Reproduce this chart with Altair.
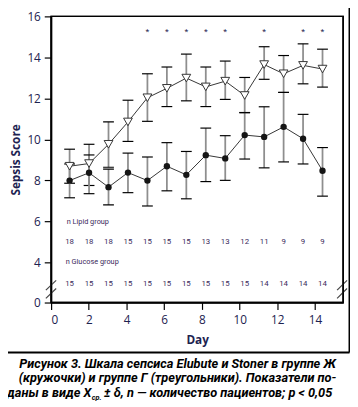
import altair as alt
import pandas as pd

days = list(range(1, 15))
glu_mean = [8.69, 8.82, 9.76, 10.85, 12.03, 12.49, 12.99, 12.56, 12.84, 12.14, 13.65, 13.20, 13.61, 13.43]
glu_lo = [7.86, 7.75, 8.64, 9.90, 10.88, 11.60, 11.88, 11.60, 11.95, 11.31, 12.93, 12.29, 12.71, 12.55]
glu_hi = [9.52, 9.76, 10.85, 11.91, 13.20, 13.53, 14.16, 13.53, 13.82, 13.02, 14.52, 14.09, 14.66, 14.40]
lip_mean = [7.99, 8.37, 7.67, 8.38, 7.99, 8.69, 8.27, 9.23, 9.07, 10.21, 10.12, 10.61, 10.03, 8.47]
lip_lo = [7.15, 7.35, 6.80, 7.40, 6.75, 7.49, 7.10, 7.94, 8.00, 9.04, 8.61, 8.90, 8.80, 7.23]
lip_hi = [8.80, 9.24, 8.55, 9.33, 9.14, 9.84, 9.41, 10.55, 10.18, 11.30, 11.59, 12.29, 11.22, 9.60]
star_days = [5, 6, 7, 8, 9, 11, 13, 14]
star_y = 15.23
n_lipid = [18, 18, 18, 15, 15, 15, 15, 13, 13, 12, 11, 9, 9, 9]
n_glucose = [15, 15, 15, 15, 15, 15, 15, 15, 15, 15, 14, 14, 14, 14]
row_labels = ["n Lipid group", "n Glucose group"]
row_label_y = [5.95, 4.0]
row_label_x = [0.85, 0.8]
lipid_row_y = 4.98
glucose_row_y = 1.8
x_ticks = [0, 2, 4, 6, 8, 10, 12, 14]
y_ticks = [0, 4, 6, 8, 10, 12, 14, 16]
caption = [
    "Рисунок 3. Шкала сепсиса Elubute и Stoner в группе Ж",
    "(кружочки) и группе Г (треугольники). Показатели по-",
]
cap3_a = "даны в виде X"
cap3_sub = "ср."
cap3_c = "± δ, n — количество пациентов; р < 0,05"
# axis-break slashes (data units)
brk_x1 = [-0.22, -0.22, 14.75, 14.75]
brk_x2 = [0.31, 0.31, 15.26, 15.26]
brk_y1 = [1.23, 0.42, 1.23, 0.42]
brk_y2 = [2.2, 1.4, 2.2, 1.4]

W, H = 298, 292
TXT = "#1d2250"

glu = pd.DataFrame({"day": days, "m": glu_mean, "lo": glu_lo, "hi": glu_hi})
lip = pd.DataFrame({"day": days, "m": lip_mean, "lo": lip_lo, "hi": lip_hi})
stars = pd.DataFrame({"day": star_days, "y": [star_y] * len(star_days)})
nrows = pd.DataFrame({
    "day": days + days,
    "n": [str(v) for v in n_lipid] + [str(v) for v in n_glucose],
    "y": [lipid_row_y] * 14 + [glucose_row_y] * 14,
})
rl = pd.DataFrame({"t": row_labels, "x": row_label_x, "y": row_label_y})
brk = pd.DataFrame({"x1": brk_x1, "x2": brk_x2, "y1": brk_y1, "y2": brk_y2})
ticks_df = pd.DataFrame({"d": x_ticks})
one = pd.DataFrame({"d": [0]})

xs = alt.Scale(domain=[0.05, 15.06], nice=False, zero=False)
ys = alt.Scale(domain=[0, 4, 16], range=[H, H - 41, 0], nice=False, zero=False)

yaxis = alt.Axis(values=y_ticks, title="Sepsis Score", grid=False, tickSize=7,
                 labelPadding=4, labelFontSize=12, labelColor=TXT, labelFont="Open Sans",
                 titleFontSize=12, titleFontWeight="bold", titleColor=TXT, titleFont="Open Sans",
                 titlePadding=5, domainColor="black", domainWidth=1.5, tickColor="black",
                 tickWidth=1.2, orient="left")

def X(f):
    return alt.X(f, type="quantitative", scale=xs, axis=None)

def Y(f):
    return alt.Y(f, type="quantitative", scale=ys, axis=yaxis)

def errlayer(df):
    bar = alt.Chart(df).mark_rule(color="#8e8e8e", strokeWidth=1.8).encode(
        x=X("day"), y=Y("lo"), y2="hi")
    cap_lo = alt.Chart(df).mark_tick(orient="horizontal", color="black", size=11, thickness=1.2,
                                     opacity=1).encode(x=X("day"), y=Y("lo"))
    cap_hi = alt.Chart(df).mark_tick(orient="horizontal", color="black", size=11, thickness=1.2,
                                     opacity=1).encode(x=X("day"), y=Y("hi"))
    return [bar, cap_lo, cap_hi]

glu_line = alt.Chart(glu).mark_line(color="#333333", strokeWidth=1).encode(x=X("day"), y=Y("m"))
lip_line = alt.Chart(lip).mark_line(color="#333333", strokeWidth=1).encode(x=X("day"), y=Y("m"))
glu_pts = alt.Chart(glu).mark_point(shape="triangle-down", size=80, filled=True, fill="white",
                                     stroke="#333333", strokeWidth=1, opacity=1).encode(x=X("day"), y=Y("m"))
lip_pts = alt.Chart(lip).mark_point(shape="circle", size=42, filled=True, color="#151515", opacity=1).encode(
    x=X("day"), y=Y("m"))
star_t = alt.Chart(stars).mark_text(text="*", fontSize=10, color=TXT, baseline="middle").encode(
    x=X("day"), y=Y("y"))
n_t = alt.Chart(nrows).mark_text(fontSize=8, color="#3b2a5c", font="Roboto", baseline="middle").encode(
    x=X("day"), y=Y("y"), text="n:N")
rl_t = alt.Chart(rl).mark_text(fontSize=7.5, color="#3b2a5c", font="Roboto", align="left",
                               baseline="middle").encode(x=X("x"), y=Y("y"), text="t:N")
brk_r = alt.Chart(brk).mark_rule(color="#444444", strokeWidth=1.2).encode(
    x=X("x1"), x2="x2", y=Y("y1"), y2="y2")

frame = alt.Chart(one).mark_rect(fill="transparent", stroke="black", strokeWidth=1.5).encode(
    x=alt.value(0), x2=alt.value(W), y=alt.value(0), y2=alt.value(H))

cap_style = dict(font="Roboto", fontSize=13, fontStyle="italic", fontWeight="bold",
                 color="black", baseline="alphabetic")
cap1 = alt.Chart(one).mark_text(text=caption[0], align="center", **cap_style).encode(
    x=alt.value(129), y=alt.value(358.5))
cap2 = alt.Chart(one).mark_text(text=caption[1], align="center", **cap_style).encode(
    x=alt.value(129), y=alt.value(373.5))
cap3a = alt.Chart(one).mark_text(text=cap3_a, align="right", **cap_style).encode(
    x=alt.value(41), y=alt.value(388.5))
sub_style = dict(cap_style)
sub_style["fontSize"] = 7.5
cap3s = alt.Chart(one).mark_text(text=cap3_sub, align="left", **sub_style).encode(
    x=alt.value(41.5), y=alt.value(391))
cap3c = alt.Chart(one).mark_text(text=cap3_c, align="left", **cap_style).encode(
    x=alt.value(54), y=alt.value(388.5))

data_layer = alt.layer(*errlayer(glu), *errlayer(lip), glu_line, lip_line, glu_pts, lip_pts,
                       star_t, n_t, rl_t, brk_r, frame,
                       cap1, cap2, cap3a, cap3s, cap3c)

axis_layer = alt.Chart(ticks_df).mark_point(opacity=0).encode(
    x=alt.X("d:Q", scale=alt.Scale(domain=[0, 15.49], nice=False, zero=False),
            axis=alt.Axis(values=x_ticks, title="Day", grid=False, tickSize=7, labelPadding=5,
                          labelFontSize=12, labelColor=TXT, labelFont="Open Sans",
                          titleFontSize=12, titleFontWeight="bold", titleColor=TXT,
                          titleFont="Open Sans", titlePadding=10, domainColor="black",
                          domainWidth=1.5, tickColor="black", tickWidth=1.2, orient="bottom")),
    y=alt.Y("d:Q", scale=ys, axis=None),
)

# outer figure box: right and bottom edges drawn as bare axis domain lines
box_layer = alt.Chart(one).mark_point(opacity=0).encode(
    x=alt.X("d:Q", scale=alt.Scale(domain=[0, 1], range=[-49, 304], nice=False, zero=False),
            axis=alt.Axis(orient="bottom", offset=50.5, ticks=False, labels=False, title="",
                          grid=False, domainColor="black", domainWidth=2)),
    y=alt.Y("d:Q", scale=alt.Scale(domain=[0, 1], range=[342.5, -12.5], nice=False, zero=False),
            axis=alt.Axis(orient="right", offset=6, ticks=False, labels=False, title="",
                          grid=False, domainColor="black", domainWidth=2)),
)

chart = alt.layer(data_layer, axis_layer, box_layer).resolve_scale(
    x="independent", y="independent").properties(
    width=W, height=H,
    autosize=alt.AutoSizeParams(type="none"),
    padding={"left": 44, "top": 4.5, "right": 7, "bottom": 100},
).configure_view(stroke="black", strokeWidth=1.5)

chart.save("out.html", embed_options={"renderer": "svg", "actions": False})
